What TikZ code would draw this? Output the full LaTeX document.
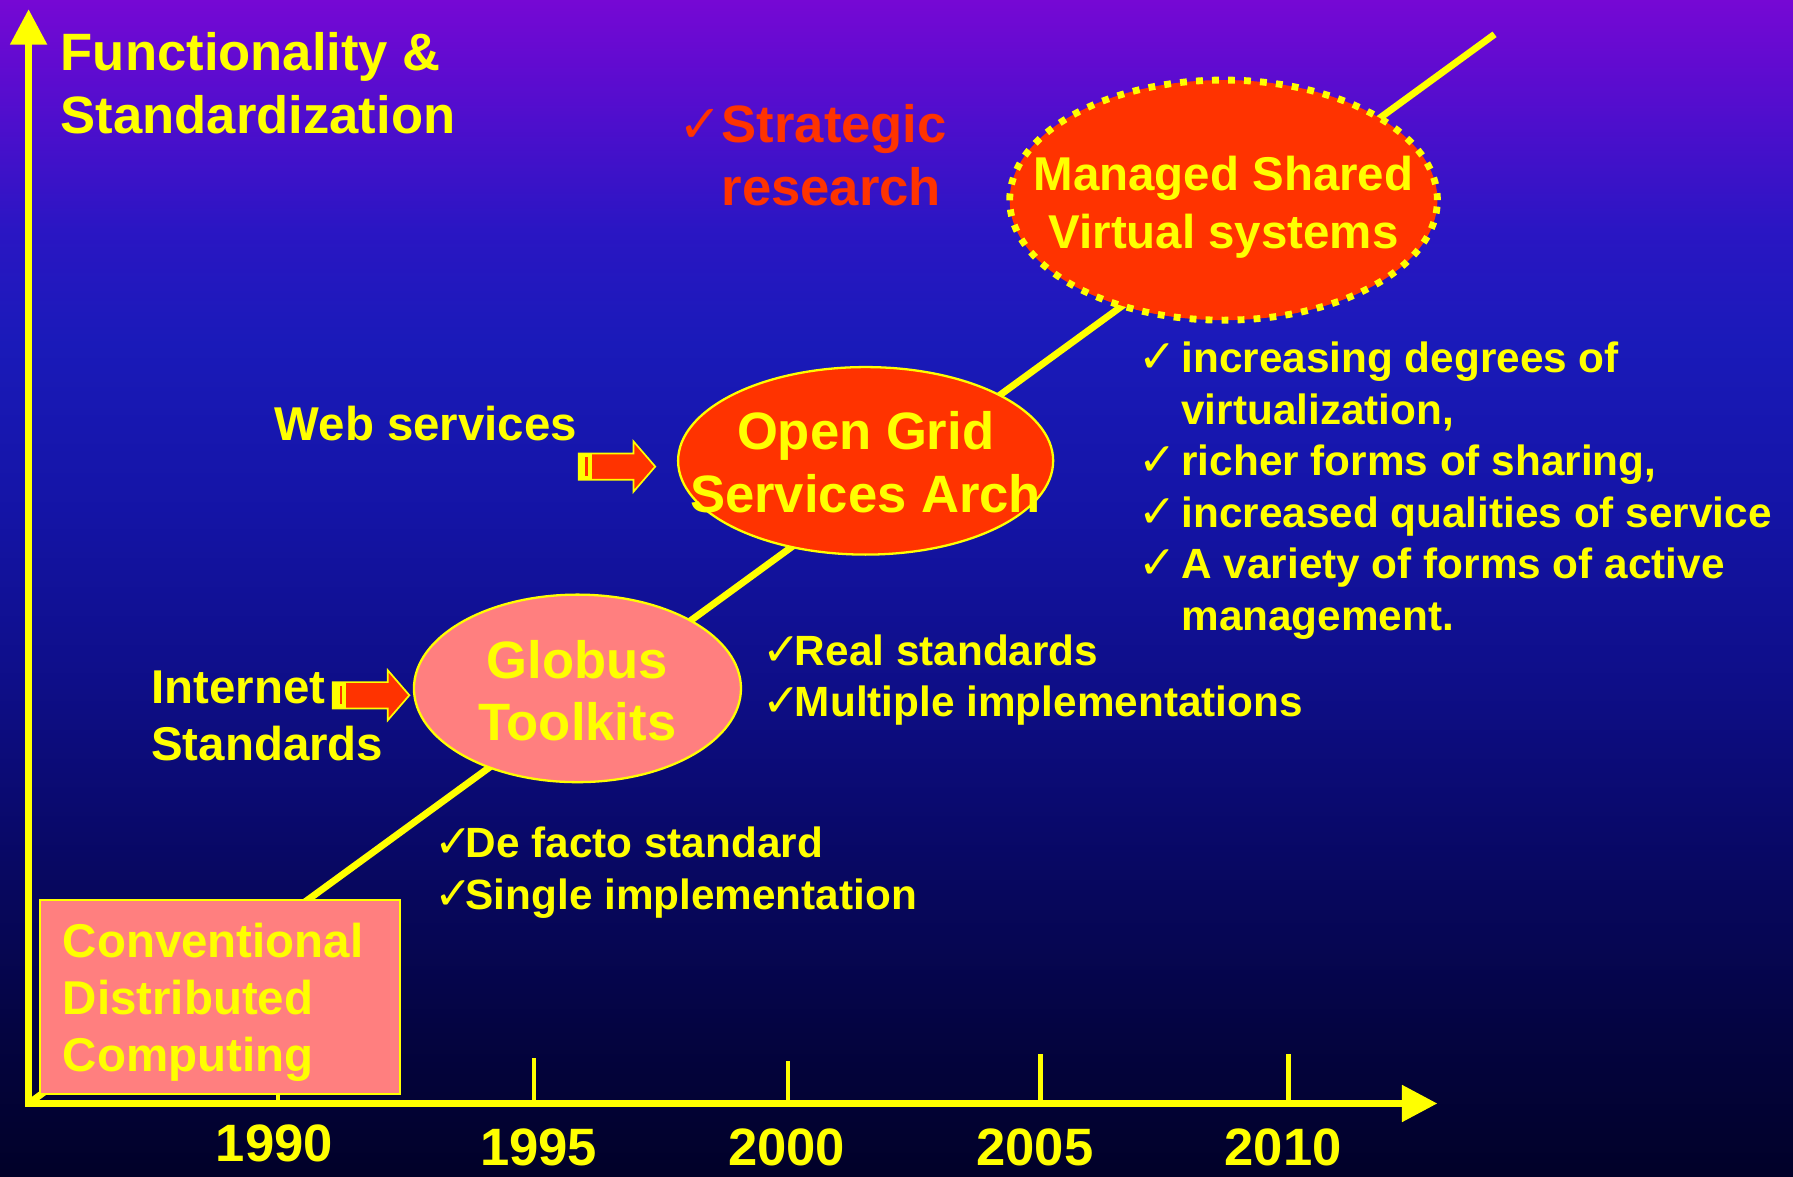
\documentclass[tikz,border=0pt]{standalone}
\usepackage{fontspec}
\setmainfont{Liberation Sans}
\newfontfamily\chkfont{DejaVu Sans}
\usepackage{tikz}
\usetikzlibrary{arrows.meta,shapes.geometric}
\definecolor{gold}{HTML}{FFFF00}
\definecolor{hotred}{HTML}{FF3300}
\definecolor{boxpink}{HTML}{FF7F7F}
\definecolor{bg0}{RGB}{118,8,212}
\definecolor{bg1}{RGB}{80,14,205}
\definecolor{bg2}{RGB}{42,22,195}
\definecolor{bg3}{RGB}{26,26,185}
\definecolor{bg4}{RGB}{20,20,165}
\definecolor{bg5}{RGB}{14,14,135}
\definecolor{bg6}{RGB}{8,8,100}
\definecolor{bg7}{RGB}{4,4,65}
\definecolor{bg8}{RGB}{1,1,40}

\newcommand\chk[2]{\makebox[#1][l]{\chkfont\fontsize{#2}{#2}\selectfont ✓}}

\tikzset{
  bigtxt/.style={text=gold, font=\bfseries\fontsize{46}{55}\selectfont, inner sep=0pt},
  midtxt/.style={text=gold, font=\bfseries\fontsize{41.5}{50}\selectfont, inner sep=0pt},
  smalltxt/.style={text=gold, font=\bfseries\fontsize{37}{45}\selectfont, inner sep=0pt},
  axisline/.style={gold, line width=6pt, line join=miter,
    arrows={Triangle[length=31pt,width=31pt]-Triangle[length=31pt,width=31pt]}},
  tickline/.style={gold, line width=4pt},
  trend/.style={gold, line width=6pt},
  bubble/.style={ellipse, draw=gold, line width=2pt, text height=40pt},
  legacybox/.style={midtxt, rectangle, draw=gold, line width=2pt, fill=boxpink,
    inner xsep=20pt, inner ysep=0pt, minimum height=170pt, text height=40pt, text depth=110pt},
  striparrow/.pic={
    \filldraw[fill=hotred, draw=gold, line width=1.5pt]
      (0,-11.5) -- (48,-11.5) -- (48,-22) -- (67,0) -- (48,22) -- (48,11.5) -- (0,11.5) -- cycle;
    \fill[gold] (0,-11.5) rectangle (12,11.5);
    \fill[hotred] (6,-8) rectangle (8,8);
  }
}

\begin{document}
\begin{tikzpicture}[x=1pt,y=-1pt]
  \useasboundingbox (0,0) rectangle (1568,1029);
  \foreach \ya/\yb/\ca/\cb in {0/100/bg0/bg1,100/200/bg1/bg2,200/300/bg2/bg3,300/450/bg3/bg4,
      450/600/bg4/bg5,600/750/bg5/bg6,750/900/bg6/bg7,900/1029/bg7/bg8}
    \shade[top color=\ca, bottom color=\cb] (0,\ya) rectangle (1568,\yb+1);

  \coordinate (origin) at (25,965);
  \coordinate (ytop) at (25,8);
  \coordinate (xend) at (1257,965);
  \coordinate (trendend) at (1307,30);

  \draw[trend] (origin) -- (trendend);
  \foreach \xx/\yy in {243/925,467/925,689/928,910/922,1127/922}
    \draw[tickline] (\xx,965) -- (\xx,\yy);
  \draw[axisline] (ytop) -- (origin) -- (xend);

  \foreach \yr/\xx/\yy in {1990/240/1016,1995/471/1019,2000/688/1019,2005/905/1019,2010/1122/1019}
    \node[bigtxt, anchor=base] (y\yr) at (\xx,\yy) {\yr};

  \node[bigtxt, anchor=base west] (ylabel) at (53,62)
    {\begin{tabular}[t]{@{}l@{}}Functionality \&\\Standardization\end{tabular}};
  \node[bigtxt, text=hotred, anchor=base west] (strategic) at (593,125)
    {\begin{tabular}[t]{@{}l@{}}\chk{38pt}{46}Strategic\\\hspace*{38pt}research\end{tabular}};

  \node[legacybox] (legacy) at (192.5,872)
    {\begin{tabular}[t]{@{}p{275pt}@{}}Conventional\\Distributed\\Computing\end{tabular}};
  \node[bubble, bigtxt, fill=boxpink, minimum width=286pt, minimum height=164pt, text depth=58pt] (globus) at (505,602)
    {\makebox[200pt]{\begin{tabular}[t]{@{}c@{}}Globus\\Toolkits\end{tabular}}};
  \node[bubble, bigtxt, fill=hotred, minimum width=328pt, minimum height=164pt, text depth=60pt] (ogsa) at (757,403)
    {\makebox[200pt]{\begin{tabular}[t]{@{}c@{}}Open Grid\\Services Arch\end{tabular}}};
  \node[bubble, midtxt, fill=hotred, line width=6pt, dash pattern=on 6pt off 8pt,
    minimum width=374pt, minimum height=210pt, text depth=56pt] (msvs) at (1070,175)
    {\makebox[200pt]{\begin{tabular}[t]{@{}c@{}}Managed Shared\\Virtual systems\end{tabular}}};

  \node[midtxt, anchor=base west] (websvc) at (240,385) {Web services};
  \node[midtxt, anchor=base west] (inetstd) at (132,615)
    {\begin{tabular}[t]{@{}l@{}}Internet\\Standards\end{tabular}};
  \coordinate (webtail) at (506,408);
  \coordinate (inettail) at (291,608);
  \pic at (webtail) {striparrow};
  \pic at (inettail) {striparrow};

  \node[smalltxt, anchor=base west] (defacto) at (380,750)
    {\begin{tabular}[t]{@{}l@{}}\chk{27pt}{40}De facto standard\\\chk{27pt}{40}Single implementation\end{tabular}};
  \node[smalltxt, anchor=base west] (realstd) at (667,582)
    {\begin{tabular}[t]{@{}l@{}}\chk{28pt}{40}Real standards\\\chk{28pt}{40}Multiple implementations\end{tabular}};
  \node[smalltxt, anchor=base west] (futurelist) at (995,326)
    {\begin{tabular}[t]{@{}l@{}}
      \chk{38pt}{40}increasing degrees of\\
      \hspace*{38pt}virtualization,\\
      \chk{38pt}{40}richer forms of sharing,\\
      \chk{38pt}{40}increased qualities of service\\
      \chk{38pt}{40}A variety of forms of active\\
      \hspace*{38pt}management.
    \end{tabular}};
\end{tikzpicture}
\end{document}
